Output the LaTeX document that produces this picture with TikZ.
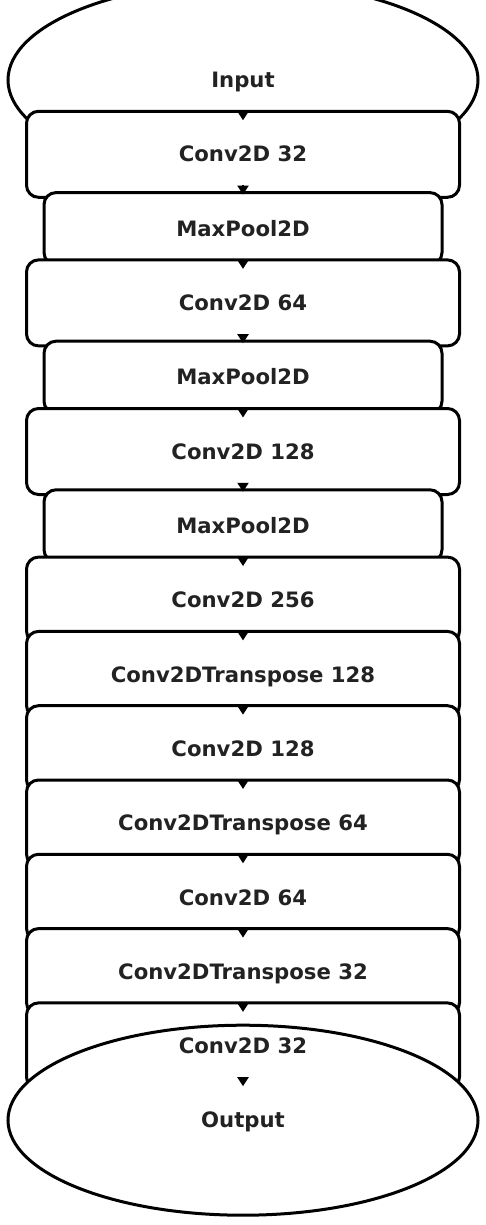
\documentclass[tikz,border=0pt]{standalone}
\usepackage{fontspec}
\setmainfont{DejaVu Sans}
\usepackage{tikz}
\usetikzlibrary{arrows.meta, positioning, shapes.geometric}
\definecolor{ink}{HTML}{222222}
\tikzstyle{arr}=[-{Triangle[length=4.5pt,width=5.5pt]},line width=1pt,color=black,
                 shorten <=15.6pt,shorten >=17pt]
\tikzstyle{term}=[draw,ellipse,fill=white,line width=1.5pt,inner sep=0pt,
                  minimum width=235pt]
\tikzstyle{conv}=[draw,rectangle,rounded corners=6pt,fill=white,line width=1.5pt,
                  minimum width=216.5pt,minimum height=43pt]
\tikzstyle{pool}=[draw,rectangle,rounded corners=6pt,fill=white,line width=1.5pt,
                  minimum width=199pt,minimum height=36pt]

\begin{document}
\begin{tikzpicture}[node distance=37.15pt,on grid,
    every node/.style={font=\bfseries\fontsize{10.6pt}{12pt}\selectfont,text=ink,
                       text height=7.7pt,text depth=0pt}]
  \useasboundingbox (0,0) rectangle (243pt,-612.5pt);
  \node[term,minimum height=98pt] (in) at (121.5pt,-40pt) {Input};
  \node[conv,below=of in] (conv1) {Conv2D 32};
  \node[pool,below=of conv1] (pool1) {MaxPool2D};
  \node[conv,below=of pool1] (conv2) {Conv2D 64};
  \node[pool,below=of conv2] (pool2) {MaxPool2D};
  \node[conv,below=of pool2] (conv3) {Conv2D 128};
  \node[pool,below=of conv3] (pool3) {MaxPool2D};
  \node[conv,below=of pool3] (conv4) {Conv2D 256};
  \node[conv,below=of conv4] (up1) {Conv2DTranspose 128};
  \node[conv,below=of up1] (conv5) {Conv2D 128};
  \node[conv,below=of conv5] (up2) {Conv2DTranspose 64};
  \node[conv,below=of up2] (conv6) {Conv2D 64};
  \node[conv,below=of conv6] (up3) {Conv2DTranspose 32};
  \node[conv,below=of up3] (conv7) {};
  \node[term,minimum height=95pt,below=of conv7] (out) {Output};
  % label of the last box sits on top of the output ellipse
  \node (conv7txt) at (conv7) {Conv2D 32};

  \draw[arr] (in.center) -- (conv1.center);
  \draw[arr] (conv1.center) -- (pool1.center);
  \draw[arr] (pool1.center) -- (conv2.center);
  \draw[arr] (conv2.center) -- (pool2.center);
  \draw[arr] (pool2.center) -- (conv3.center);
  \draw[arr] (conv3.center) -- (pool3.center);
  \draw[arr] (pool3.center) -- (conv4.center);
  \draw[arr] (conv4.center) -- (up1.center);
  \draw[arr] (up1.center) -- (conv5.center);
  \draw[arr] (conv5.center) -- (up2.center);
  \draw[arr] (up2.center) -- (conv6.center);
  \draw[arr] (conv6.center) -- (up3.center);
  \draw[arr] (up3.center) -- (conv7.center);
  \draw[arr] (conv7.center) -- (out.center);
\end{tikzpicture}
\end{document}
